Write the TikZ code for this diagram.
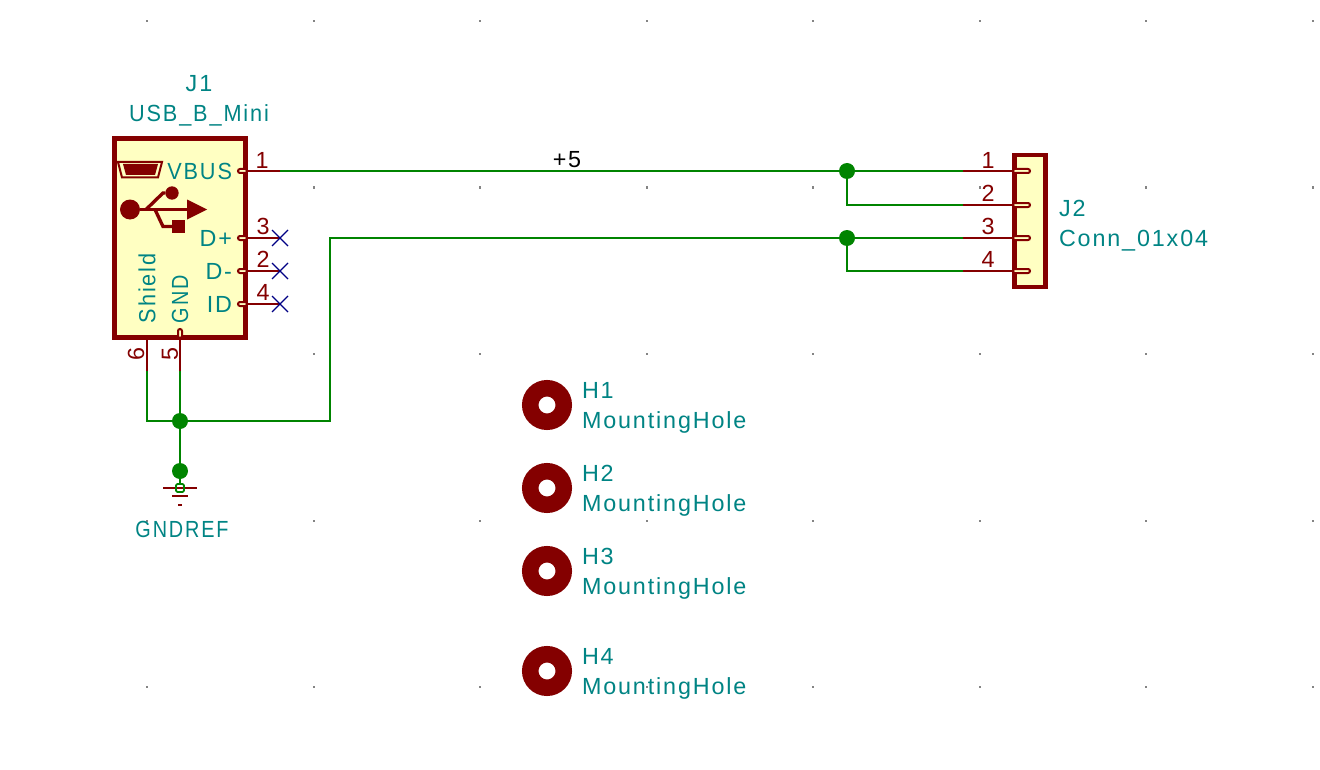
\documentclass[tikz,border=0pt]{standalone}
\usepackage{fontspec}
\newfontfamily\kifont[LetterSpace=8]{Liberation Sans}
\newfontfamily\kimid[LetterSpace=8,FakeStretch=0.93]{Liberation Sans}
\newfontfamily\kicaps[LetterSpace=8,FakeStretch=0.85]{Liberation Sans}
\usetikzlibrary{positioning}
\definecolor{kired}{RGB}{132,0,0}
\definecolor{kiteal}{RGB}{0,132,132}
\definecolor{kigreen}{RGB}{0,132,0}
\definecolor{kiblue}{RGB}{0,0,132}
\definecolor{kiyellow}{RGB}{255,255,194}
\definecolor{kigrid}{RGB}{132,132,132}

\begin{document}
\begin{tikzpicture}[x=0.75pt, y=-0.75pt]
        \tikzset{every node/.style={inner sep=0pt, outer sep=0pt},
                wire/.style={draw=kigreen, line width=2pt},
                pin/.style={draw=kired, line width=1.5pt},
                stub/.style={draw=kired, fill=kiyellow, line width=1.5pt, rounded corners=1.5pt},
                body/.style={draw=kired, fill=kiyellow, line width=3.3pt},
                junction/.style={circle, fill=kigreen, minimum size=12pt},
                hole/.style={circle, draw=kired, line width=12.4pt, fill=white, minimum size=25.1pt},
                tag/.style={text=kiteal, font=\kifont\fontsize{17.5}{17.5}\selectfont},
                midtag/.style={text=kiteal, font=\kimid\fontsize{17.5}{17.5}\selectfont},
                capstag/.style={text=kiteal, font=\kicaps\fontsize{17.5}{17.5}\selectfont},
                num/.style={text=kired, font=\kifont\fontsize{17.5}{17.5}\selectfont},
                ncmark/.style={draw=kiblue, line width=1pt},
                griddot/.style={fill=kigrid, minimum size=1.5pt}}

        \useasboundingbox (0, 0) rectangle (1320, 770);
        \fill[white] (0, 0) rectangle (1320, 770);

        % grid
        \foreach \gx in {0,...,7} {
            \foreach \gy in {0,...,4} {
                \node[griddot] (g\gx\gy) at (147+166.5*\gx, 21+166.5*\gy) {};
            }
        }

        % J1 body
        \node[body, minimum width=98.5pt, minimum height=149pt] (J1) at (180, 238) {};
        \node[tag] (J1ref) at (199, 84) {J1};
        \node[midtag] (J1val) at (199, 115) {USB\_B\_Mini};

        % J1 pins
        \coordinate (p1) at (280, 171);
        \coordinate (p3) at (280, 238);
        \coordinate (p2) at (280, 271);
        \coordinate (p4) at (280, 304);
        \coordinate (p6) at (147, 371);
        \coordinate (p5) at (180, 371);
        \coordinate (a1) at (238, 171);
        \coordinate (a3) at (238, 238);
        \coordinate (a2) at (238, 271);
        \coordinate (a4) at (238, 304);
        \coordinate (a5) at (180, 329);
        \coordinate (a6) at (147, 338);
        \draw[pin] (a1) -- (p1);
        \draw[pin] (a3) -- (p3);
        \draw[pin] (a2) -- (p2);
        \draw[pin] (a4) -- (p4);
        \draw[pin] (a5) -- (p5);
        \draw[pin] (a6) -- (p6);
        \foreach \pa in {a1,a2,a3,a4} {
            \draw[stub] ([shift={(0,-2)}]\pa) rectangle ([shift={(9,2)}]\pa);
        }
        \draw[stub] ([shift={(-2,0)}]a5) rectangle ([shift={(2,9)}]a5);

        \node[num] (n1) at (262, 160) {1};
        \node[num] (n3) at (263, 226) {3};
        \node[num] (n2) at (263, 259) {2};
        \node[num] (n4) at (263, 292) {4};
        \node[num, rotate=90] (n6) at (136, 354) {6};
        \node[num, rotate=90] (n5) at (170, 354) {5};

        \node[midtag, anchor=east] (vbus) at (232, 171) {VBUS};
        \node[tag, anchor=east] (dp) at (232, 238) {D+};
        \node[tag, anchor=east] (dm) at (232, 271) {D-};
        \node[tag, anchor=east] (id) at (232, 304) {ID};
        \node[midtag, rotate=90, anchor=west] (shield) at (147, 323) {Shield};
        \node[capstag, rotate=90, anchor=west] (gnd) at (180, 323) {GND};

        % no connects
        \foreach \pc in {p3,p2,p4} {
            \draw[ncmark] ([shift={(-8,-8)}]\pc) -- ([shift={(8,8)}]\pc);
            \draw[ncmark] ([shift={(-8,8)}]\pc) -- ([shift={(8,-8)}]\pc);
        }

        % usb logo
        \draw[kired, line width=1.5pt, fill=kiyellow] (118, 162) -- (162, 162) -- (158, 177.5) -- (122, 177.5) -- cycle;
        \fill[kired] (123, 164) -- (158, 164) -- (155, 175) -- (126, 175) -- cycle;
        \node[circle, fill=kired, minimum size=15pt] (usbdot) at (130, 209.5) {};
        \node[circle, fill=kired, minimum size=10pt] (usbup) at (172, 193) {};
        \node[fill=kired, minimum size=10pt] (usbdn) at (178.5, 226.5) {};
        \fill[kired] (187, 199.5) -- (207, 209.5) -- (187, 219.5) -- cycle;
        \draw[kired, line width=2.5pt] (usbdot) -- (187, 209.5);
        \draw[kired, line width=2.5pt] (146, 209.5) -- (163, 193) -- (usbup);
        \draw[kired, line width=2.5pt] (155, 209.5) -- (163, 226.5) -- (usbdn);

        % J2
        \node[body, minimum width=23.5pt, minimum height=99pt] (J2) at (1030, 221) {};
        \node[tag, anchor=west] (J2ref) at (1059, 208) {J2};
        \node[tag, anchor=west] (J2val) at (1059, 241) {Conn\_01x04};
        \coordinate (j1) at (963, 171);
        \coordinate (j2) at (963, 205);
        \coordinate (j3) at (963, 238);
        \coordinate (j4) at (963, 271);
        \foreach \py in {171,205,238,271} {
            \draw[stub] (1013, \py-2) rectangle (1030, \py+2);
        }
        \foreach \pj/\py in {j1/171,j2/205,j3/238,j4/271} {
            \draw[pin] (\pj) -- (1013, \py);
        }
        \node[num] (m1) at (988, 160) {1};
        \node[num] (m2) at (988, 193) {2};
        \node[num] (m3) at (988, 226) {3};
        \node[num] (m4) at (988, 259) {4};

        % nets
        \node[junction] (jv) at (847, 171) {};
        \node[junction] (jg) at (847, 238) {};
        \node[junction] (js) at (180, 421) {};
        \node[junction] (jr) at (180, 471) {};
        \draw[wire] (p1) -- (jv) -- (j1);
        \draw[wire] (jv) |- (j2);
        \draw[wire] (js) -| (330, 238) -- (jg) -- (j3);
        \draw[wire] (jg) |- (j4);
        \draw[wire] (p6) |- (js);
        \draw[wire] (p5) -- (js) -- (jr);
        \node (plus5) at (567, 160) {\kifont\fontsize{17.5}{17.5}\selectfont +5};

        % gndref
        \coordinate (gr) at (180, 484);
        \draw[wire] (jr) -- (gr);
        \draw[kired, line width=1.5pt] (163, 488) -- (197, 488);
        \draw[kired, line width=1.5pt] (172, 496) -- (188, 496);
        \draw[kired, line width=1.5pt] (178, 505) -- (182, 505);
        \draw[kigreen, line width=1.4pt, rounded corners=1pt] (176, 484) rectangle (184, 492);
        \node[capstag] (gndref) at (182, 529) {GNDREF};

        % mounting holes
        \foreach \hn/\hy in {1/405,2/488,3/571,4/671} {
            \node[hole] (H\hn) at (547, \hy) {};
            \node[tag, anchor=west] (H\hn ref) at (582, \hy-15) {H\hn};
            \node[tag, anchor=west] (H\hn val) at (582, \hy+17) {MountingHole};
        }

    \end{tikzpicture}
\end{document}
